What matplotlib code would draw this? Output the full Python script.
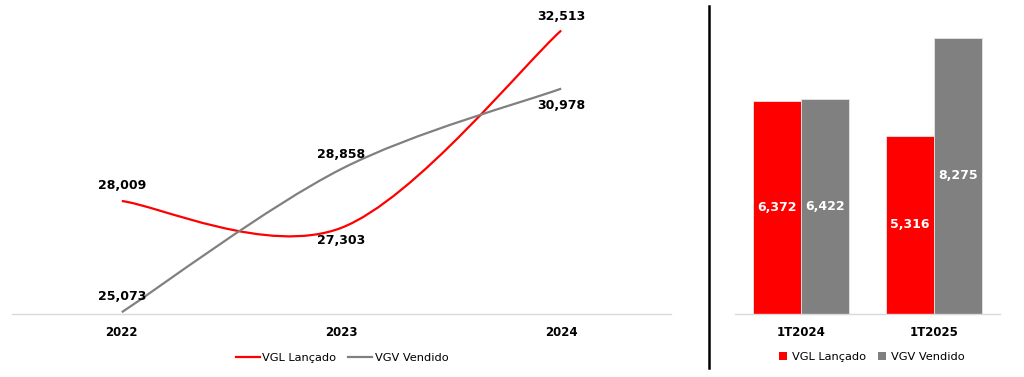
import matplotlib
matplotlib.use("Agg")
import matplotlib.pyplot as plt
from matplotlib.path import Path
from matplotlib.patches import PathPatch, Patch
from matplotlib.lines import Line2D
import numpy as np

# ---- data ----
years = ["2022", "2023", "2024"]
vgl_lancado = [28009, 27303, 32513]
vgv_vendido = [25073, 28858, 30978]

quarters = ["1T2024", "1T2025"]
vgl_q = [6372, 5316]
vgv_q = [6422, 8275]

RED = "#FF0000"
GRAY = "#808080"
BASE = "#D9D9D9"

W, H = 1024, 377
fig = plt.figure(figsize=(W / 100, H / 100), dpi=100)


def fx(px):
    return px / W


def fy(py):
    return 1 - py / H


# ---- left: smoothed line chart ----
axL = fig.add_axes([fx(12), fy(314), fx(671 - 12), (314 - 10) / H])
xs = np.arange(len(years)) + 0.5


def smooth_path(x, y):
    pts = np.column_stack([x, y]).astype(float)
    n = len(pts)
    verts = [pts[0]]
    codes = [Path.MOVETO]
    for i in range(n - 1):
        p0 = pts[i - 1] if i > 0 else pts[i]
        p1 = pts[i]
        p2 = pts[i + 1]
        p3 = pts[i + 2] if i + 2 < n else pts[i + 1]
        c1 = p1 + (p2 - p0) / 6.0
        c2 = p2 - (p3 - p1) / 6.0
        verts += [c1, c2, p2]
        codes += [Path.CURVE4] * 3
    return Path(verts, codes)


for vals, col in [(vgl_lancado, RED), (vgv_vendido, GRAY)]:
    axL.add_patch(PathPatch(smooth_path(xs, vals), facecolor="none",
                            edgecolor=col, lw=1.6, capstyle="butt"))

axL.set_xlim(0, 3)
axL.set_ylim(25025, 33055)

# label offsets (points): positive above, negative below
offs_vgl = [11, -9, 10]
offs_vgv = [11, 10.5, -12]
for x, v, o in zip(xs, vgl_lancado, offs_vgl):
    axL.annotate(f"{v:,}", (x, v), xytext=(0, o), textcoords="offset points",
                 ha="center", va="center", fontsize=9, fontweight="bold")
for x, v, o in zip(xs, vgv_vendido, offs_vgv):
    axL.annotate(f"{v:,}", (x, v), xytext=(0, o), textcoords="offset points",
                 ha="center", va="center", fontsize=9, fontweight="bold")

axL.set_xticks(xs)
axL.set_xticklabels(years, fontsize=8.5, fontweight="bold")
axL.set_yticks([])
axL.tick_params(axis="x", length=0, pad=9)
for s in ["top", "right", "left"]:
    axL.spines[s].set_visible(False)
axL.spines["bottom"].set_color(BASE)
axL.spines["bottom"].set_linewidth(1)

legL = [Line2D([0], [0], color=RED, lw=1.6), Line2D([0], [0], color=GRAY, lw=1.6)]
fig.legend(legL, ["VGL Lançado", "VGV Vendido"], loc="center",
           bbox_to_anchor=(fx(342), fy(358)), ncol=2, frameon=False,
           fontsize=8.2, handlelength=2.1, handletextpad=0.2,
           columnspacing=1.1, borderpad=0)

# ---- right: bar chart ----
axR = fig.add_axes([fx(735), fy(313.5), fx(1000 - 735), (313.5 - 10) / H])
xq = np.arange(len(quarters)) + 0.5
bw = 0.362
b1 = axR.bar(xq - bw / 2, vgl_q, bw, color=RED, edgecolor="#E6E6E6", lw=0.6)
b2 = axR.bar(xq + bw / 2, vgv_q, bw, color=GRAY, edgecolor="#E6E6E6", lw=0.6)
for bars, vals in [(b1, vgl_q), (b2, vgv_q)]:
    for r, v in zip(bars, vals):
        axR.text(r.get_x() + r.get_width() / 2, v / 2, f"{v:,}",
                 ha="center", va="center", color="white", fontsize=9,
                 fontweight="bold")
axR.set_xlim(0, 2)
axR.set_ylim(0, 9100)
axR.set_xticks(xq)
axR.set_xticklabels(quarters, fontsize=8.5, fontweight="bold")
axR.set_yticks([])
axR.tick_params(axis="x", length=0, pad=9)
for s in ["top", "right", "left"]:
    axR.spines[s].set_visible(False)
axR.spines["bottom"].set_color(BASE)
axR.spines["bottom"].set_linewidth(1)

legR = [Patch(facecolor=RED), Patch(facecolor=GRAY)]
fig.legend(legR, ["VGL Lançado", "VGV Vendido"], loc="center",
           bbox_to_anchor=(fx(872), fy(357)), ncol=2, frameon=False,
           fontsize=8.2, handlelength=0.7, handleheight=0.7,
           handletextpad=0.4, columnspacing=1.1, borderpad=0)

# ---- vertical separator ----
fig.add_artist(Line2D([fx(709), fx(709)], [fy(368), fy(6)], color="black",
                      lw=1.8, transform=fig.transFigure))

fig.savefig("out.png", dpi=100)
